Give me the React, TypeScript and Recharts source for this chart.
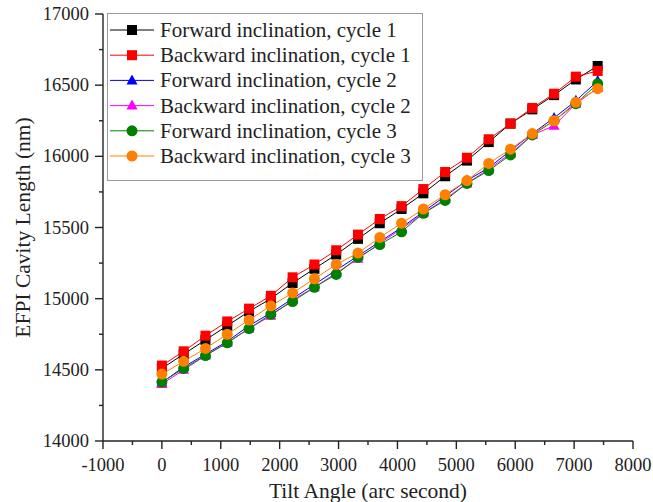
import React from 'react';
import { LineChart, Line, XAxis, YAxis, Legend } from 'recharts';

const TILT_ANGLES = [0, 370, 740, 1110, 1480, 1850, 2220, 2590, 2960, 3330, 3700, 4070, 4440, 4810, 5180, 5550, 5920, 6290, 6660, 7030, 7400];

const FORWARD_CYCLE_1 = [14510, 14610, 14710, 14810, 14910, 15000, 15110, 15210, 15310, 15420, 15530, 15630, 15740, 15860, 15970, 16100, 16230, 16330, 16430, 16540, 16635];
const BACKWARD_CYCLE_1 = [14530, 14630, 14740, 14840, 14930, 15020, 15150, 15240, 15340, 15450, 15560, 15650, 15770, 15890, 15990, 16120, 16230, 16340, 16440, 16560, 16600];
const FORWARD_CYCLE_2 = [14410, 14520, 14610, 14700, 14810, 14900, 15000, 15100, 15200, 15300, 15400, 15500, 15610, 15720, 15830, 15920, 16040, 16160, 16270, 16390, 16530];
const BACKWARD_CYCLE_2 = [14400, 14500, 14600, 14690, 14790, 14880, 14990, 15080, 15180, 15280, 15390, 15490, 15600, 15700, 15810, 15910, 16020, 16150, 16215, 16370, 16480];
const FORWARD_CYCLE_3 = [14414, 14510, 14600, 14690, 14790, 14890, 14980, 15080, 15170, 15290, 15380, 15470, 15600, 15690, 15810, 15900, 16010, 16150, 16250, 16370, 16510];
const BACKWARD_CYCLE_3 = [14470, 14560, 14650, 14750, 14850, 14950, 15040, 15140, 15240, 15320, 15430, 15530, 15630, 15730, 15830, 15950, 16050, 16160, 16250, 16380, 16475];

const X_TICKS = [-1000, -500, 0, 500, 1000, 1500, 2000, 2500, 3000, 3500, 4000, 4500, 5000, 5500, 6000, 6500, 7000, 7500, 8000];
const Y_TICKS = [14000, 14250, 14500, 14750, 15000, 15250, 15500, 15750, 16000, 16250, 16500, 16750, 17000];

const SERIES = [
  { key: 'f1', name: 'Forward inclination, cycle 1', color: '#000000', shape: 'square', values: FORWARD_CYCLE_1 },
  { key: 'b1', name: 'Backward inclination, cycle 1', color: '#ff0000', shape: 'square', values: BACKWARD_CYCLE_1 },
  { key: 'f2', name: 'Forward inclination, cycle 2', color: '#0000ff', shape: 'triangle', values: FORWARD_CYCLE_2 },
  { key: 'b2', name: 'Backward inclination, cycle 2', color: '#ff00ff', shape: 'triangle', values: BACKWARD_CYCLE_2 },
  { key: 'f3', name: 'Forward inclination, cycle 3', color: '#008000', shape: 'circle', values: FORWARD_CYCLE_3 },
  { key: 'b3', name: 'Backward inclination, cycle 3', color: '#ff8000', shape: 'circle', values: BACKWARD_CYCLE_3 },
];

const data = TILT_ANGLES.map((x, i) => {
  const row: any = { x };
  SERIES.forEach((s) => { row[s.key] = s.values[i]; });
  return row;
});

const FONT = "'Liberation Serif', 'Times New Roman', serif";
const TXT = { fontFamily: FONT, fill: '#222' };

function Marker({ cx, cy, shape, color }: any) {
  if (cx == null || cy == null) return null;
  if (shape === 'square') {
    return <rect x={cx - 5} y={cy - 5} width={10} height={10} fill={color} />;
  }
  if (shape === 'triangle') {
    return <path d={`M${cx},${cy - 6} L${cx + 5.5},${cy + 4} L${cx - 5.5},${cy + 4} Z`} fill={color} />;
  }
  return <circle cx={cx} cy={cy} r={5.5} fill={color} />;
}

const XTick = (props: any) => {
  const { x, y, payload } = props;
  const v = payload.value;
  const major = v % 1000 === 0;
  return (
    <g>
      <line x1={x} x2={x} y1={y} y2={y + (major ? 8 : 4)} stroke="#222" strokeWidth={1.4} />
      {major && (
        <text x={x} y={y + 30} textAnchor="middle" style={{ ...TXT, fontSize: 18.5 }}>{v}</text>
      )}
    </g>
  );
};

const YTick = (props: any) => {
  const { x, y, payload } = props;
  const v = payload.value;
  const major = v % 500 === 0;
  return (
    <g>
      <line x1={x - (major ? 8 : 4)} x2={x} y1={y} y2={y} stroke="#222" strokeWidth={1.4} />
      {major && (
        <text x={x - 14} y={y + 6} textAnchor="end" style={{ ...TXT, fontSize: 18.5 }}>{v}</text>
      )}
    </g>
  );
};

const renderLegend = () => (
  <svg width={316} height={168} style={{ display: 'block' }}>
    <rect x={0.5} y={0.5} width={315} height={167} fill="#fff" stroke="#9a9a9a" strokeWidth={1} />
    {SERIES.map((s, i) => {
      const cy = 17 + i * 25.2;
      return (
        <g key={s.key}>
          <line x1={3} x2={47} y1={cy} y2={cy} stroke={s.color} strokeWidth={1} />
          <Marker cx={25} cy={cy} shape={s.shape} color={s.color} />
          <text x={53} y={cy + 7} style={{ ...TXT, fontSize: 21 }}>{s.name}</text>
        </g>
      );
    })}
  </svg>
);

export default function App() {
  return (
    <div style={{ position: 'absolute', left: 0, top: 0, width: 653, height: 502, background: '#fff' }}>
      <LineChart width={653} height={502} data={data} margin={{ top: 14, right: 20, bottom: 0, left: 0 }}>
        <XAxis
          dataKey="x"
          type="number"
          domain={[-1000, 8000]}
          ticks={X_TICKS}
          interval={0}
          tickSize={0}
          tickMargin={0}
          tickLine={false}
          tick={<XTick />}
          height={61}
          axisLine={{ stroke: '#222', strokeWidth: 1.4 }}
          label={{ value: 'Tilt Angle (arc second)', position: 'insideBottom', offset: 4, style: { ...TXT, fontSize: 21.5 } }}
        />
        <YAxis
          type="number"
          domain={[14000, 17000]}
          ticks={Y_TICKS}
          interval={0}
          tickSize={0}
          tickMargin={0}
          tickLine={false}
          tick={<YTick />}
          width={103}
          axisLine={{ stroke: '#222', strokeWidth: 1.4 }}
          label={{ value: 'EFPI Cavity Length (nm)', angle: -90, position: 'insideLeft', offset: 22, style: { ...TXT, fontSize: 21.5, textAnchor: 'middle' } }}
        />
        <Legend
          layout="vertical"
          align="center"
          verticalAlign="middle"
          content={renderLegend}
          wrapperStyle={{ position: 'absolute', left: 107, top: 13, width: 316, height: 168 }}
        />
        {SERIES.map((s) => (
          <Line
            key={s.key}
            dataKey={s.key}
            name={s.name}
            stroke={s.color}
            strokeWidth={1}
            isAnimationActive={false}
            dot={(p: any) => <Marker key={`${s.key}-${p.index}`} cx={p.cx} cy={p.cy} shape={s.shape} color={s.color} />}
            activeDot={false}
          />
        ))}
      </LineChart>
    </div>
  );
}
